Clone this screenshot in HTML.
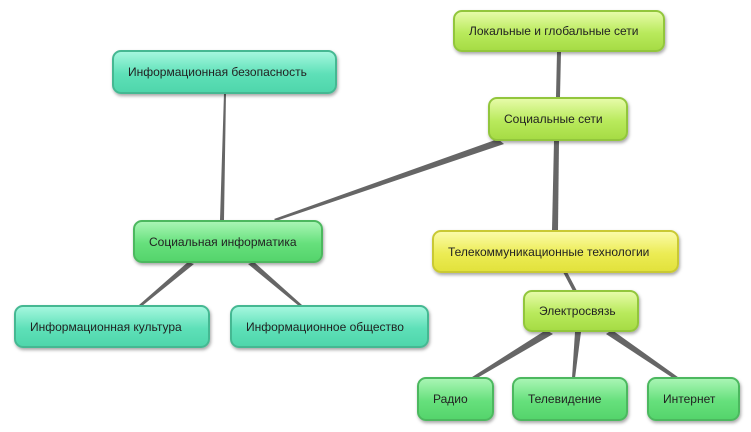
<!DOCTYPE html>
<html><head><meta charset="utf-8"><style>
body{margin:0;width:751px;height:432px;background:#fff;position:relative;overflow:hidden;font-family:"Liberation Sans",sans-serif;}
.n{position:absolute;box-sizing:border-box;border-radius:9px;font-size:12px;color:#222;display:flex;align-items:center;justify-content:flex-start;padding-left:14px;white-space:nowrap;box-shadow:1px 2px 3px rgba(0,0,0,0.35);}
.t{background:linear-gradient(#a4f7de,#5ee0b8 55%,#4fd6ab);border:2px solid #45b892;}
.l{background:linear-gradient(#e6fba8,#b9ea5c 55%,#a6dc45);border:2px solid #92c63c;}
.g{background:linear-gradient(#a8f5b4,#66e07c 55%,#55d46c);border:2px solid #4cb85f;}
.y{background:linear-gradient(#fbfba8,#ecec55 55%,#e2e23c);border:2px solid #c9c934;}
svg{position:absolute;left:0;top:0}
</style></head><body>
<svg width="751" height="432">
<g fill="#666">
<polygon points="224,93 226,93 224,220 220,220"/>
<polygon points="498,139 504,144 276,221 274,219"/>
<polygon points="557,52 561,52 560,97 556,97"/>
<polygon points="554,141 559,141 558,230 552,230"/>
<polygon points="188,262 194,264 142,306 139,305"/>
<polygon points="248,264 254,262 302,305 299,306"/>
<polygon points="563,272 567,272 577,291 573,291"/>
<polygon points="546,330 553,334 472,381 469,379"/>
<polygon points="575,332 581,332 575,378 572,378"/>
<polygon points="606,334 612,330 682,380 679,382"/>
</g>
</svg>
<div class="n t" style="left:112px;top:50px;width:225px;height:44px">Информационная безопасность</div>
<div class="n l" style="left:453px;top:10px;width:212px;height:42px">Локальные и глобальные сети</div>
<div class="n l" style="left:488px;top:97px;width:140px;height:44px">Социальные сети</div>
<div class="n g" style="left:133px;top:220px;width:190px;height:43px">Социальная информатика</div>
<div class="n y" style="left:432px;top:230px;width:247px;height:43px">Телекоммуникационные технологии</div>
<div class="n t" style="left:14px;top:305px;width:196px;height:43px">Информационная культура</div>
<div class="n t" style="left:230px;top:305px;width:199px;height:43px">Информационное общество</div>
<div class="n l" style="left:523px;top:290px;width:116px;height:42px">Электросвязь</div>
<div class="n g" style="left:417px;top:377px;width:77px;height:44px">Радио</div>
<div class="n g" style="left:512px;top:377px;width:116px;height:44px">Телевидение</div>
<div class="n g" style="left:647px;top:377px;width:93px;height:44px">Интернет</div>
</body></html>
